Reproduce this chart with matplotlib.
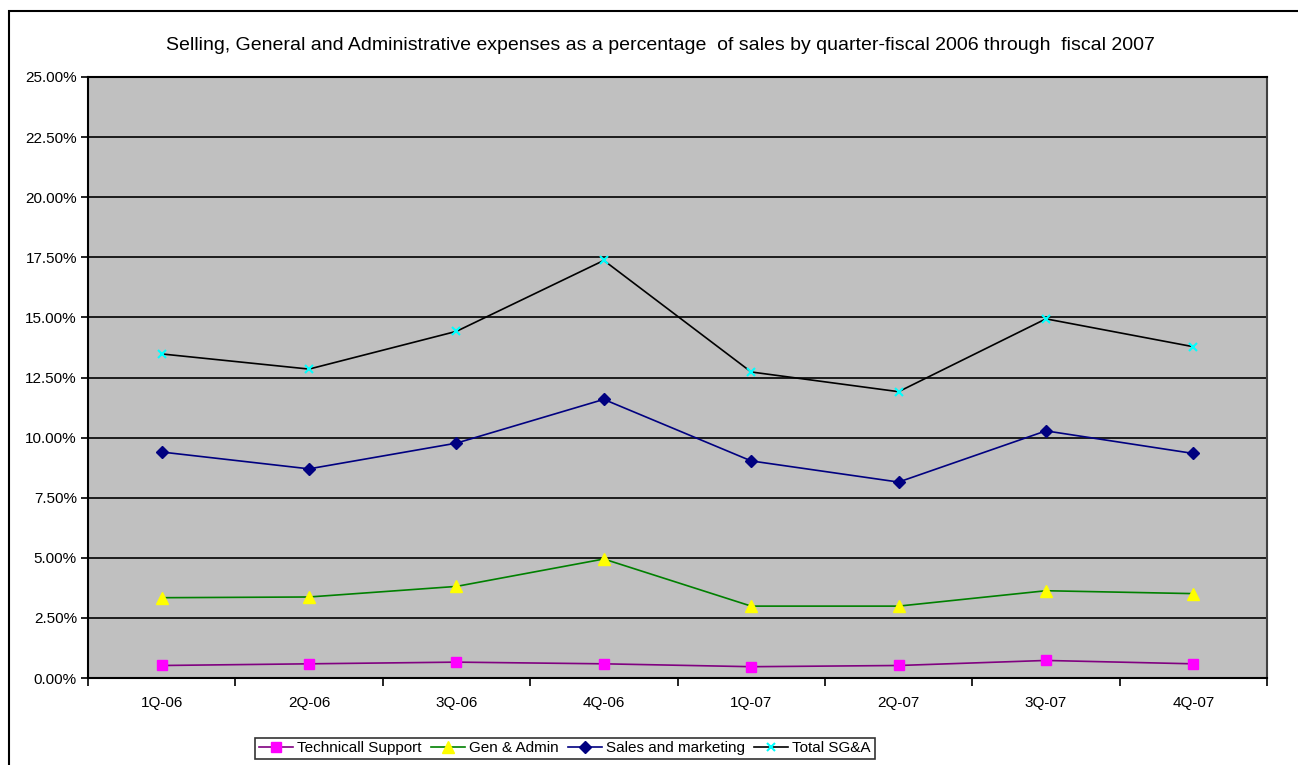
import matplotlib.pyplot as plt
import matplotlib.patches as mpatches
from matplotlib.ticker import FuncFormatter

plt.rcParams['font.family'] = ['Liberation Sans', 'DejaVu Sans']

quarters = ['1Q-06', '2Q-06', '3Q-06', '4Q-06', '1Q-07', '2Q-07', '3Q-07', '4Q-07']
tech_support = [0.52, 0.59, 0.66, 0.59, 0.47, 0.52, 0.73, 0.59]
gen_admin = [3.34, 3.37, 3.81, 4.95, 2.99, 2.99, 3.63, 3.51]
sales_marketing = [9.40, 8.70, 9.77, 11.59, 9.03, 8.15, 10.28, 9.34]
total_sga = [13.48, 12.85, 14.42, 17.37, 12.73, 11.91, 14.94, 13.78]

W, H = 1298, 765
fig = plt.figure(figsize=(W / 100, H / 100), dpi=100)

# outer chart border (runs off the right and bottom edges)
fig.patches.append(mpatches.Rectangle((9 / W, -1), 2, 1 + (H - 11) / H,
                                      transform=fig.transFigure, fill=False,
                                      edgecolor='black', linewidth=1.5))

ax = fig.add_axes([88 / W, (H - 678) / H, 1179 / W, 601 / H])
ax.set_facecolor('#C0C0C0')

x = list(range(len(quarters)))
ax.plot(x, tech_support, color='#800080', lw=1.2, marker='s', ms=7,
        mfc='#FF00FF', mec='#FF00FF', label='Technicall Support', zorder=3)
ax.plot(x, gen_admin, color='#008000', lw=1.2, marker='^', ms=8,
        mfc='#FFFF00', mec='#FFFF00', label='Gen & Admin', zorder=3)
ax.plot(x, sales_marketing, color='#000080', lw=1.2, marker='D', ms=6,
        mfc='#000080', mec='#000080', label='Sales and marketing', zorder=3)
ax.plot(x, total_sga, color='black', lw=1.2, marker='x', ms=6, mew=1.5,
        mfc='#00FFFF', mec='#00FFFF', label='Total SG&A', zorder=3)

ax.set_ylim(0, 25)
ax.set_yticks([i * 2.5 for i in range(11)])
ax.yaxis.set_major_formatter(FuncFormatter(lambda v, p: '%.2f%%' % v))
ax.grid(axis='y', color='black', lw=1.2)
ax.set_axisbelow(True)

ax.set_xlim(-0.5, len(quarters) - 0.5)
ax.set_xticks([i - 0.5 for i in range(len(quarters) + 1)])
ax.set_xticklabels([])
ax.set_xticks(x, minor=True)
ax.set_xticklabels(quarters, minor=True)
ax.tick_params(axis='x', which='major', direction='out', length=6, width=1.2, color='black')
ax.tick_params(axis='x', which='minor', length=0, pad=13, labelsize=11)
ax.tick_params(axis='y', direction='out', length=5, width=1.2, labelsize=11, pad=3)

for side in ['left', 'bottom', 'top']:
    ax.spines[side].set_color('black')
    ax.spines[side].set_linewidth(1.5)
ax.spines['right'].set_color('#404040')
ax.spines['right'].set_linewidth(1.5)

fig.text(660 / W, 1 - 45 / H, 'Selling, General and Administrative expenses as a percentage  of sales '
         'by quarter-fiscal 2006 through  fiscal 2007', ha='center', va='center', fontsize=14)

leg = fig.legend(loc='upper center', bbox_to_anchor=(565 / W, 1 - 733 / H), ncol=4,
                 fontsize=11, frameon=True, fancybox=False, handlelength=2.2,
                 handletextpad=0.3, columnspacing=0.6, borderpad=0.25, borderaxespad=0.3)
leg.get_frame().set_edgecolor('black')
leg.get_frame().set_linewidth(1.2)

fig.savefig('out.png', dpi=100)
